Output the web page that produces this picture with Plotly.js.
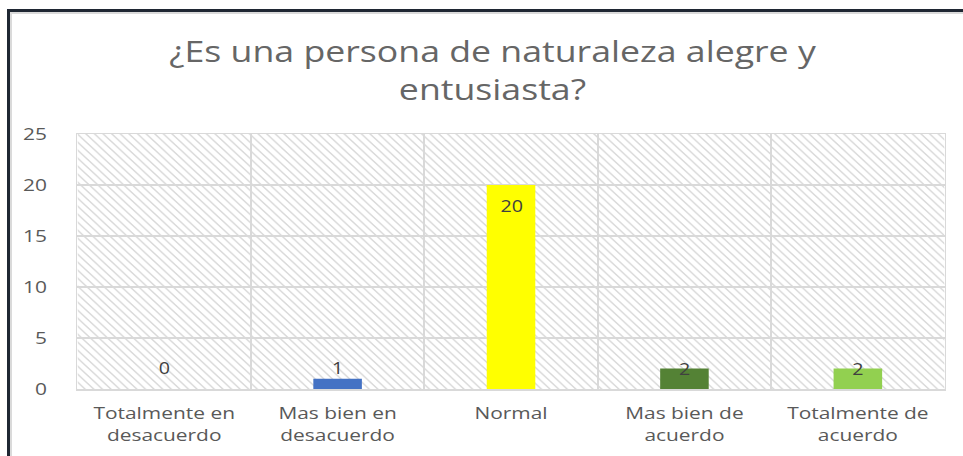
<!DOCTYPE html>
<html>
<head>
<meta charset="utf-8">
<script src="https://cdn.plot.ly/plotly-3.0.1.min.js"></script>
<style>
  html, body { margin: 0; padding: 0; background: #fff; }
  #wrap { position: relative; width: 963px; height: 456px; overflow: hidden; }
  #chart { position: absolute; left: 0; top: 0; width: 783px; height: 456px;
           transform: scaleX(1.2299); transform-origin: 0 0; }
  #frame { position: absolute; left: 7px; top: 9px; right: -10px; bottom: -10px;
           border-left: 3px solid #1f2733; border-top: 3px solid #1f2733; pointer-events: none; }
  #frame2 { position: absolute; left: 0; top: 0; right: 0; bottom: 0;
           border-left: 2px solid #dadada; border-top: 2px solid #dadada; }
</style>
</head>
<body>
<div id="wrap">
  <div id="chart"></div>
  <div id="frame"><div id="frame2"></div></div>
</div>
<script>
// ---- data ----
const categories = ["Totalmente en<br>desacuerdo", "Mas bien en<br>desacuerdo", "Normal", "Mas bien de<br>acuerdo", "Totalmente de<br>acuerdo"];
const values = [0, 1, 20, 2, 2];
const barColors = ["#4472C4", "#4472C4", "#FFFF00", "#548235", "#92D050"];
const yTicks = [0, 5, 10, 15, 20, 25];
const titleText = "¿Es una persona de naturaleza alegre y<br>entusiasta?";

// ---- styling ----
const labelShift = [21, 11, -21, 0, 0];

const W = 783, H = 456;   // drawn narrower, then stretched horizontally like the reference
const margin = {l: 62.6, r: 15.4, t: 134, b: 67};
const pw = Math.round(W - margin.l - margin.r), ph = H - margin.t - margin.b;

const svg = `<svg xmlns="http://www.w3.org/2000/svg" width="${pw}" height="${ph}">` +
  `<defs><pattern id="p" width="7" height="8" patternUnits="userSpaceOnUse">` +
  `<path d="M-1.75,-2 L8.75,10 M-1.75,6 L1.75,10 M5.25,-2 L8.75,2" stroke="#d9d9d9" stroke-width="1.3"/>` +
  `</pattern></defs><rect width="100%" height="100%" fill="#ffffff"/><rect width="100%" height="100%" fill="url(#p)"/></svg>`;
const bgSrc = "data:image/svg+xml;base64," + btoa(svg);

const trace = {
  type: "bar",
  x: categories,
  y: values,
  width: 0.28,
  marker: {color: barColors},
  hoverinfo: "x+y"
};

const annotations = categories.map((c, i) => ({
  x: c, y: values[i], xref: "x", yref: "y",
  text: String(values[i]), showarrow: false,
  yanchor: "middle", yshift: labelShift[i],
  font: {family: "Open Sans, sans-serif", size: 16, color: "#404040"}
}));

const layout = {
  width: W, height: H,
  margin: margin,
  paper_bgcolor: "#ffffff",
  plot_bgcolor: "rgba(0,0,0,0)",
  showlegend: false,
  title: {
    text: titleText,
    font: {family: "Open Sans, sans-serif", size: 29, color: "#666666"},
    xref: "paper", x: 0.4786, xanchor: "center",
    yref: "container", y: 1 - 62 / H, yanchor: "top"
  },
  xaxis: {
    type: "category",
    tickson: "boundaries",
    showgrid: true, gridcolor: "#d9d9d9", gridwidth: 1.5,
    showline: true, linecolor: "#d9d9d9", linewidth: 1.5, mirror: true,
    ticks: "", ticklabelstandoff: 8,
    tickfont: {family: "Open Sans, sans-serif", size: 17, color: "#595959"},
    fixedrange: true
  },
  yaxis: {
    range: [0, 25],
    tickvals: yTicks,
    showgrid: true, gridcolor: "#d9d9d9", gridwidth: 1.5,
    showline: true, linecolor: "#d9d9d9", linewidth: 1.5, mirror: true,
    zeroline: false,
    ticks: "outside", ticklen: 20, tickcolor: "rgba(0,0,0,0)",
    tickfont: {family: "Open Sans, sans-serif", size: 17, color: "#595959"},
    fixedrange: true
  },
  images: [{
    source: bgSrc, xref: "paper", yref: "paper",
    x: 0, y: 1, sizex: 1, sizey: 1, xanchor: "left", yanchor: "top",
    sizing: "stretch", layer: "below"
  }],
  annotations: annotations
};

Plotly.newPlot("chart", [trace], layout, {displayModeBar: false, staticPlot: true});
</script>
</body>
</html>
